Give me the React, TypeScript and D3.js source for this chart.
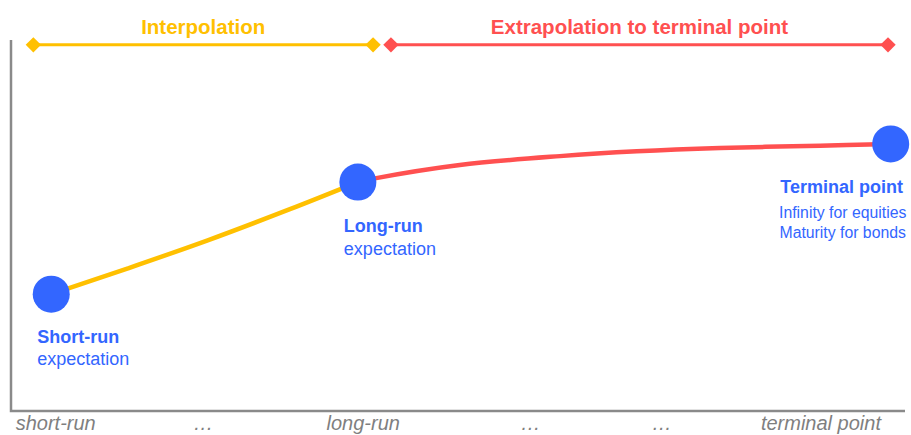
import * as d3 from 'd3';

// x/y are in "horizon" / "expectation" units, 0..100 on both axes
const interpX = [4.5, 13.0, 22.0, 31.2, 38.8];
const interpY = [31.5, 38.4, 46.0, 54.4, 61.7];
const extrapX = [38.8, 40.7, 50.2, 61.4, 70.0, 79.3, 90.5, 98.4];
const extrapY = [61.7, 62.7, 66.3, 68.7, 70.0, 70.9, 71.5, 72.0];

const keyPoints = [
  { name: 'short-run', x: 4.5, y: 31.5 },
  { name: 'long-run', x: 38.8, y: 61.7 },
  { name: 'terminal', x: 98.4, y: 72.0 },
];

const tickLabels = ['short-run', '…', 'long-run', '…', '…', 'terminal point'];
const tickPos = [5.0, 21.5, 39.4, 58.1, 72.8, 90.6];

const phases = [
  { label: 'Interpolation', from: 2.5, to: 40.5, color: '#FFC000' },
  { label: 'Extrapolation to terminal point', from: 42.5, to: 98.1, color: '#FF5050' },
];
const phaseY = 98.7;

const BLUE = '#3366FF';
const W = 911;
const H = 435;
const margin = { top: 40, right: 6, bottom: 24, left: 11 };

export default function App() {
  const x = d3.scaleLinear().domain([0, 100]).range([margin.left, W - margin.right]);
  const y = d3.scaleLinear().domain([0, 100]).range([H - margin.bottom, margin.top]);

  const line = d3
    .line<[number, number]>()
    .x((d) => x(d[0]))
    .y((d) => y(d[1]))
    .curve(d3.curveCatmullRom.alpha(0.5));

  const interpPath = line(interpX.map((v, i) => [v, interpY[i]]) as [number, number][]) || '';
  const extrapPath = line(extrapX.map((v, i) => [v, extrapY[i]]) as [number, number][]) || '';

  const diamond = d3.symbol().type(d3.symbolDiamond2).size(150)() || '';

  const [sr, lr, tp] = keyPoints;
  const font = '"Liberation Sans", Arial, sans-serif';

  return (
    <svg
      width={W}
      height={H}
      style={{ position: 'absolute', left: 0, top: 0, fontFamily: font }}
    >
      {/* phase brackets */}
      {phases.map((p) => (
        <g key={p.label}>
          <line x1={x(p.from)} x2={x(p.to)} y1={y(phaseY)} y2={y(phaseY)} stroke={p.color} strokeWidth={3} />
          {[p.from, p.to].map((v, i) => (
            <path key={i} d={diamond} transform={`translate(${x(v)},${y(phaseY)})`} fill={p.color} />
          ))}
          <text
            x={(x(p.from) + x(p.to)) / 2}
            y={34}
            textAnchor="middle"
            fill={p.color}
            fontWeight="bold"
            fontSize={20.5}
          >
            {p.label}
          </text>
        </g>
      ))}

      {/* axes */}
      <path
        d={`M${x(0)},${y(100)} V${y(0)} H${x(100)}`}
        fill="none"
        stroke="#8a8a8a"
        strokeWidth={2.5}
      />
      {tickLabels.map((t, i) => (
        <text
          key={i}
          x={x(tickPos[i])}
          y={430}
          textAnchor="middle"
          fontStyle="italic"
          fontSize={20}
          fill="#7f7f7f"
        >
          {t}
        </text>
      ))}

      {/* curves */}
      <path d={interpPath} fill="none" stroke="#FFC000" strokeWidth={4.5} />
      <path d={extrapPath} fill="none" stroke="#FF5050" strokeWidth={4.5} />

      {keyPoints.map((p) => (
        <circle key={p.name} cx={x(p.x)} cy={y(p.y)} r={18.5} fill={BLUE} />
      ))}

      {/* point labels */}
      <g fill={BLUE} fontSize={18}>
        <text x={x(sr.x) - 14} y={343} fontWeight="bold">Short-run</text>
        <text x={x(sr.x) - 14} y={365}>expectation</text>
        <text x={x(lr.x) - 14} y={232} fontWeight="bold">Long-run</text>
        <text x={x(lr.x) - 14} y={255}>expectation</text>
        <text x={x(tp.x) - 49} y={193} fontWeight="bold" textAnchor="middle">Terminal point</text>
        <text x={x(tp.x) - 48} y={218} fontSize={15.8} textAnchor="middle">Infinity for equities</text>
        <text x={x(tp.x) - 48} y={238} fontSize={15.8} textAnchor="middle">Maturity for bonds</text>
      </g>
    </svg>
  );
}
